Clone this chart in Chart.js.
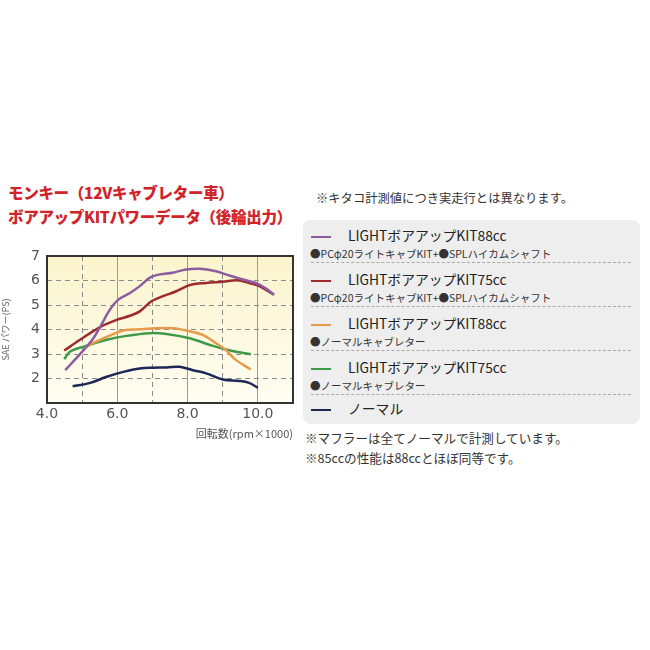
<!DOCTYPE html>
<html>
<head>
<meta charset="utf-8">
<script src="https://cdn.jsdelivr.net/npm/chart.js@4/dist/chart.umd.min.js"></script>
<style>
  html, body { margin: 0; padding: 0; background: #fff; }
  body { width: 650px; height: 650px; position: relative; overflow: hidden;
         font-family: "Noto Sans CJK JP", "Noto Sans", sans-serif; }
  .title { position: absolute; left: 8px; color: #d2232a; font-weight: 900; font-size: 15.5px; line-height: 20px; letter-spacing: -0.3px; white-space: nowrap; }
  #chart-wrap { position: absolute; left: 0; top: 238px; width: 300px; height: 202px; }
  .note { position: absolute; font-size: 12.6px; line-height: 16px; color: #333; white-space: nowrap; }
  #legend { position: absolute; left: 303px; top: 220px; width: 337px; height: 204px;
            background: #eeeeee; border-radius: 8px; }
  .item { position: absolute; left: 0; width: 337px; }
  .item .sw { position: absolute; left: 8px; width: 20px; height: 2px; }
  .item .name { position: absolute; left: 45px; font-size: 13.8px; line-height: 16px; color: #222; white-space: nowrap; }
  .item .sub { position: absolute; left: 7px; font-size: 10.5px; line-height: 12px; color: #333; white-space: nowrap; }
  .sep { position: absolute; left: 8px; width: 320px; border-top: 1px dashed #aaa; }
</style>
</head>
<body>
<div class="title" style="top:182px">モンキー（12Vキャブレター車）</div>
<div class="title" style="top:206px">ボアアップKITパワーデータ（後輪出力）</div>

<div id="chart-wrap"><canvas id="powerChart" width="300" height="202"></canvas></div>

<div class="note" style="left:316px; top:190px; font-size:12.3px;">※キタコ計測値につき実走行とは異なります。</div>
<div id="legend"></div>
<div class="note" style="left:305px; top:430px;">※マフラーは全てノーマルで計測しています。</div>
<div class="note" style="left:305px; top:450px;">※85ccの性能は88ccとほぼ同等です。</div>

<script>
// ── Data (rpm×1000 → PS) ─────────────────────────────────────────────────────
const seriesNames = ["LIGHTボアアップKIT88cc", "LIGHTボアアップKIT75cc", "LIGHTボアアップKIT88cc", "LIGHTボアアップKIT75cc", "ノーマル"];
const seriesNotes = ["●PCφ20ライトキャブKIT+●SPLハイカムシャフト", "●PCφ20ライトキャブKIT+●SPLハイカムシャフト", "●ノーマルキャブレター", "●ノーマルキャブレター", ""];
const seriesColors = ["#8c5c9f", "#9e2a2e", "#e79a4c", "#3c9a48", "#1e2856"];

const rpm88pc = [4.52, 4.75, 5.04, 5.3, 5.51, 5.79, 6.03, 6.36, 6.64, 6.92, 7.21, 7.58, 7.96, 8.34, 8.81, 9.09, 9.47, 9.94, 10.2, 10.46];
const ps88pc  = [2.34, 2.7, 3.16, 3.6, 4.1, 4.81, 5.22, 5.49, 5.77, 6.11, 6.25, 6.32, 6.45, 6.48, 6.38, 6.25, 6.08, 5.9, 5.7, 5.42];

const rpm75pc = [4.49, 4.94, 5.51, 6.0, 6.36, 6.64, 6.97, 7.3, 7.68, 8.06, 8.53, 9.0, 9.42, 9.75, 10.04, 10.46];
const ps75pc  = [3.14, 3.58, 4.1, 4.4, 4.56, 4.74, 5.15, 5.36, 5.56, 5.81, 5.9, 5.95, 6.01, 5.9, 5.77, 5.42];

const rpm88n = [5.1, 5.51, 6.17, 6.64, 7.11, 7.58, 7.96, 8.43, 8.81, 9.09, 9.38, 9.8];
const ps88n  = [3.3, 3.58, 3.96, 4.01, 4.05, 4.05, 3.96, 3.78, 3.44, 3.16, 2.75, 2.37];

const rpm75n = [4.49, 4.66, 5.04, 5.7, 6.26, 6.92, 7.4, 8.06, 8.72, 9.28, 9.8];
const ps75n  = [2.79, 3.1, 3.3, 3.58, 3.74, 3.85, 3.82, 3.64, 3.33, 3.12, 2.99];

const rpmStd = [4.73, 5.23, 5.7, 6.17, 6.64, 7.02, 7.4, 7.77, 8.15, 8.53, 9.0, 9.47, 9.75, 10.0];
const psStd  = [1.68, 1.82, 2.07, 2.27, 2.41, 2.44, 2.45, 2.48, 2.34, 2.21, 1.96, 1.9, 1.82, 1.62];

const xLabels = { 4: "4.0", 6: "6.0", 8: "8.0", 10: "10.0" };
const yLabels = [2, 3, 4, 5, 6, 7];

const allRpm = [rpm88pc, rpm75pc, rpm88n, rpm75n, rpmStd];
const allPs  = [ps88pc, ps75pc, ps88n, ps75n, psStd];

// ── Background + frame plugin ────────────────────────────────────────────────
const framePlugin = {
  id: "frame",
  beforeDraw(chart) {
    const { ctx, chartArea: a } = chart;
    const g = ctx.createLinearGradient(0, a.top, 0, a.bottom);
    g.addColorStop(0, "#fbf4cc");
    g.addColorStop(1, "#fffdf2");
    ctx.save();
    ctx.fillStyle = g;
    ctx.fillRect(a.left, a.top, a.right - a.left, a.bottom - a.top);
    ctx.restore();
  },
  afterDraw(chart) {
    const { ctx, chartArea: a } = chart;
    ctx.save();
    ctx.strokeStyle = "#333";
    ctx.lineWidth = 2;
    ctx.strokeRect(a.left, a.top, a.right - a.left, a.bottom - a.top);
    ctx.restore();
  }
};

const datasets = allRpm.map((xs, i) => ({
  label: seriesNames[i],
  data: xs.map((x, j) => ({ x, y: allPs[i][j] })),
  borderColor: seriesColors[i],
  borderWidth: 2.5,
  pointRadius: 0,
  tension: 0.35,
  fill: false,
  order: i
}));

new Chart(document.getElementById("powerChart"), {
  type: "line",
  data: { datasets },
  options: {
    responsive: false,
    animation: false,
    layout: { padding: { top: 18, right: 7, left: 0 } },
    plugins: { legend: { display: false }, tooltip: { enabled: false } },
    scales: {
      x: {
        type: "linear", min: 4, max: 11,
        afterFit(s) { s.height = 37; s.paddingLeft = 0; s.paddingRight = 0; },
        border: { display: false },
        grid: { drawTicks: false, lineWidth: 1,
                color: c => (c.tick && c.tick.value % 2 === 0 && c.tick.value > 4 && c.tick.value < 11) ? "#9a9a9a" : "transparent" },
        ticks: { stepSize: 1, padding: 3, maxRotation: 0, minRotation: 0, autoSkip: false, color: "#555",
                 font: { size: 14, family: "'DejaVu Sans', sans-serif" },
                 callback: v => xLabels[v] || "" },
        title: { display: true, text: "回転数(rpm×1000)", align: "end", color: "#555",
                 font: { size: 11, family: "'Noto Sans CJK JP', sans-serif" }, padding: { top: 1, bottom: 0 } }
      },
      x2: {
        type: "linear", min: 4, max: 11, display: true, position: "bottom",
        afterFit(s) { s.height = 0; s.paddingLeft = 0; s.paddingRight = 0; },
        border: { display: false, dash: [5, 4] },
        grid: { drawTicks: false, lineWidth: 1,
                color: c => (c.tick && c.tick.value % 2 === 1) ? "#8a8a8a" : "transparent" },
        ticks: { stepSize: 1, display: false }
      },
      y: {
        type: "linear", min: 1, max: 7,
        afterFit(s) { s.width = 47; },
        border: { display: false, dash: [5, 4] },
        grid: { drawTicks: false, lineWidth: 1,
                color: c => (c.tick && c.tick.value > 1 && c.tick.value < 7) ? "#8a8a8a" : "transparent" },
        ticks: { stepSize: 1, padding: 7, color: "#555", font: { size: 14, family: "'DejaVu Sans', sans-serif" },
                 callback: v => yLabels.includes(v) ? String(v) : "" },
        title: { display: true, text: "SAE パワー(PS)", color: "#666",
                 font: { size: 9, family: "'Noto Sans CJK JP', sans-serif" }, padding: { top: 0, bottom: 2 } }
      }
    }
  },
  plugins: [framePlugin]
});

// ── Legend panel (HTML) ──────────────────────────────────────────────────────
const legendTops = [8, 52, 96, 140, 181];
const legend = document.getElementById("legend");
legend.innerHTML = seriesNames.map((name, i) => {
  const t = legendTops[i];
  let html = `<div class="item" style="top:${t}px">
    <div class="sw" style="top:8px; background:${seriesColors[i]}"></div>
    <div class="name" style="top:-1.5px">${name}</div>`;
  if (seriesNotes[i]) html += `<div class="sub" style="top:19.5px">${seriesNotes[i]}</div>`;
  html += `</div>`;
  if (i < seriesNames.length - 1) html += `<div class="sep" style="top:${t + 34}px"></div>`;
  return html;
}).join("");
</script>
</body>
</html>
